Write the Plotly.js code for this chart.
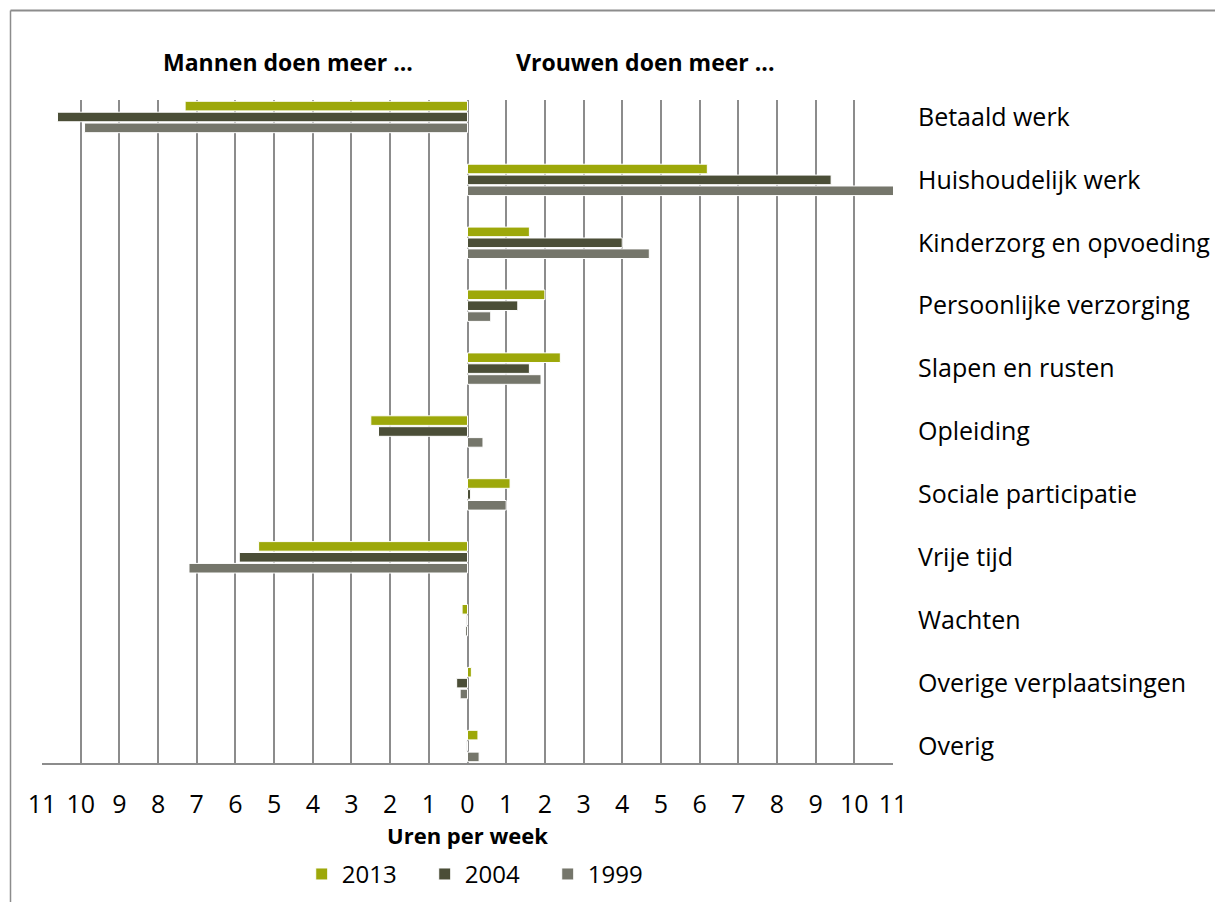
<!DOCTYPE html>
<html>
<head>
<meta charset="utf-8">
<script src="https://cdn.plot.ly/plotly-3.0.1.min.js"></script>
<style>
html,body{margin:0;padding:0;background:#fff;}
#chart{width:1215px;height:902px;}
</style>
</head>
<body>
<div id="chart"></div>
<script>
const categories = [
  "Betaald werk",
  "Huishoudelijk werk",
  "Kinderzorg en opvoeding",
  "Persoonlijke verzorging",
  "Slapen en rusten",
  "Opleiding",
  "Sociale participatie",
  "Vrije tijd",
  "Wachten",
  "Overige verplaatsingen",
  "Overig"
];
const values2013 = [-7.3, 6.2, 1.6, 2.0, 2.4, -2.5, 1.1, -5.4, -0.14, 0.1, 0.27];
const values2004 = [-10.6, 9.4, 4.0, 1.3, 1.6, -2.3, 0.08, -5.9, -0.03, -0.28, -0.02];
const values1999 = [-9.9, 11.1, 4.7, 0.6, 1.9, 0.4, 1.0, -7.2, -0.05, -0.19, 0.3];
const seriesNames = ["2013", "2004", "1999"];
const seriesColors = ["#9da80a", "#4b4e37", "#75766b"];
const tickVals = [-11,-10,-9,-8,-7,-6,-5,-4,-3,-2,-1,0,1,2,3,4,5,6,7,8,9,10,11];
const tickText = tickVals.map(v => String(Math.abs(v)));

const font = "'Open Sans', 'Liberation Sans', Arial, sans-serif";
const seriesValues = [values2013, values2004, values1999];

const traces = seriesValues.map((vals, i) => ({
  type: 'bar',
  orientation: 'h',
  name: seriesNames[i],
  y: categories,
  x: vals,
  marker: {color: seriesColors[i], line: {color: '#ffffff', width: 1}},
  cliponaxis: true,
  hoverinfo: 'x+y'
}));

const layout = {
  width: 1215,
  height: 902,
  margin: {l: 42, r: 322, t: 100, b: 139, autoexpand: false},
  paper_bgcolor: '#ffffff',
  plot_bgcolor: '#ffffff',
  barmode: 'group',
  bargap: 0.48,
  bargroupgap: 0.12,
  font: {family: font, size: 24, color: '#000000'},
  showlegend: true,
  legend: {
    orientation: 'h',
    x: 0.522, xanchor: 'center',
    y: -0.168, yanchor: 'middle',
    font: {family: font, size: 24, color: '#000'},
    itemwidth: 30,
    entrywidth: 78,
    entrywidthmode: 'pixels',
    traceorder: 'normal'
  },
  xaxis: {
    range: [-11, 11],
    tickvals: tickVals,
    ticktext: tickText,
    showgrid: true,
    gridcolor: '#8c8c8c',
    gridwidth: 2,
    zeroline: true,
    zerolinecolor: '#8c8c8c',
    zerolinewidth: 2,
    showline: true,
    linecolor: '#8c8c8c',
    linewidth: 2,
    ticks: '',
    ticklabelstandoff: 18,
    tickfont: {family: font, size: 25, color: '#000'},
    title: {text: '<b>Uren per week</b>', font: {family: font, size: 22, color: '#000'}, standoff: 0},
    fixedrange: true
  },
  yaxis: {
    type: 'category',
    categoryorder: 'array',
    categoryarray: categories,
    range: [10.27, -0.27],
    side: 'right',
    showgrid: false,
    zeroline: false,
    showline: false,
    ticks: '',
    ticklabelstandoff: 24,
    tickfont: {family: font, size: 25, color: '#000'},
    fixedrange: true
  },
  annotations: [
    {text: '<b>Mannen doen meer ...</b>', xref: 'paper', yref: 'paper', x: (288-42)/851, y: (763-62)/663,
     xanchor: 'center', yanchor: 'middle', showarrow: false, font: {family: font, size: 23, color: '#000'}},
    {text: '<b>Vrouwen doen meer ...</b>', xref: 'paper', yref: 'paper', x: (645-42)/851, y: (763-62)/663,
     xanchor: 'center', yanchor: 'middle', showarrow: false, font: {family: font, size: 23, color: '#000'}}
  ],
  shapes: [
    {type: 'line', xref: 'paper', yref: 'paper', x0: (10.5-42)/851, x1: (1216-42)/851, y0: (763-10.5)/663, y1: (763-10.5)/663,
     line: {color: '#8c8c8c', width: 2}},
    {type: 'line', xref: 'paper', yref: 'paper', x0: (10.5-42)/851, x1: (10.5-42)/851, y0: (763-10.5)/663, y1: (763-903)/663,
     line: {color: '#8c8c8c', width: 1.5}}
  ]
};

Plotly.newPlot('chart', traces, layout, {displayModeBar: false, staticPlot: true});
</script>
</body>
</html>
